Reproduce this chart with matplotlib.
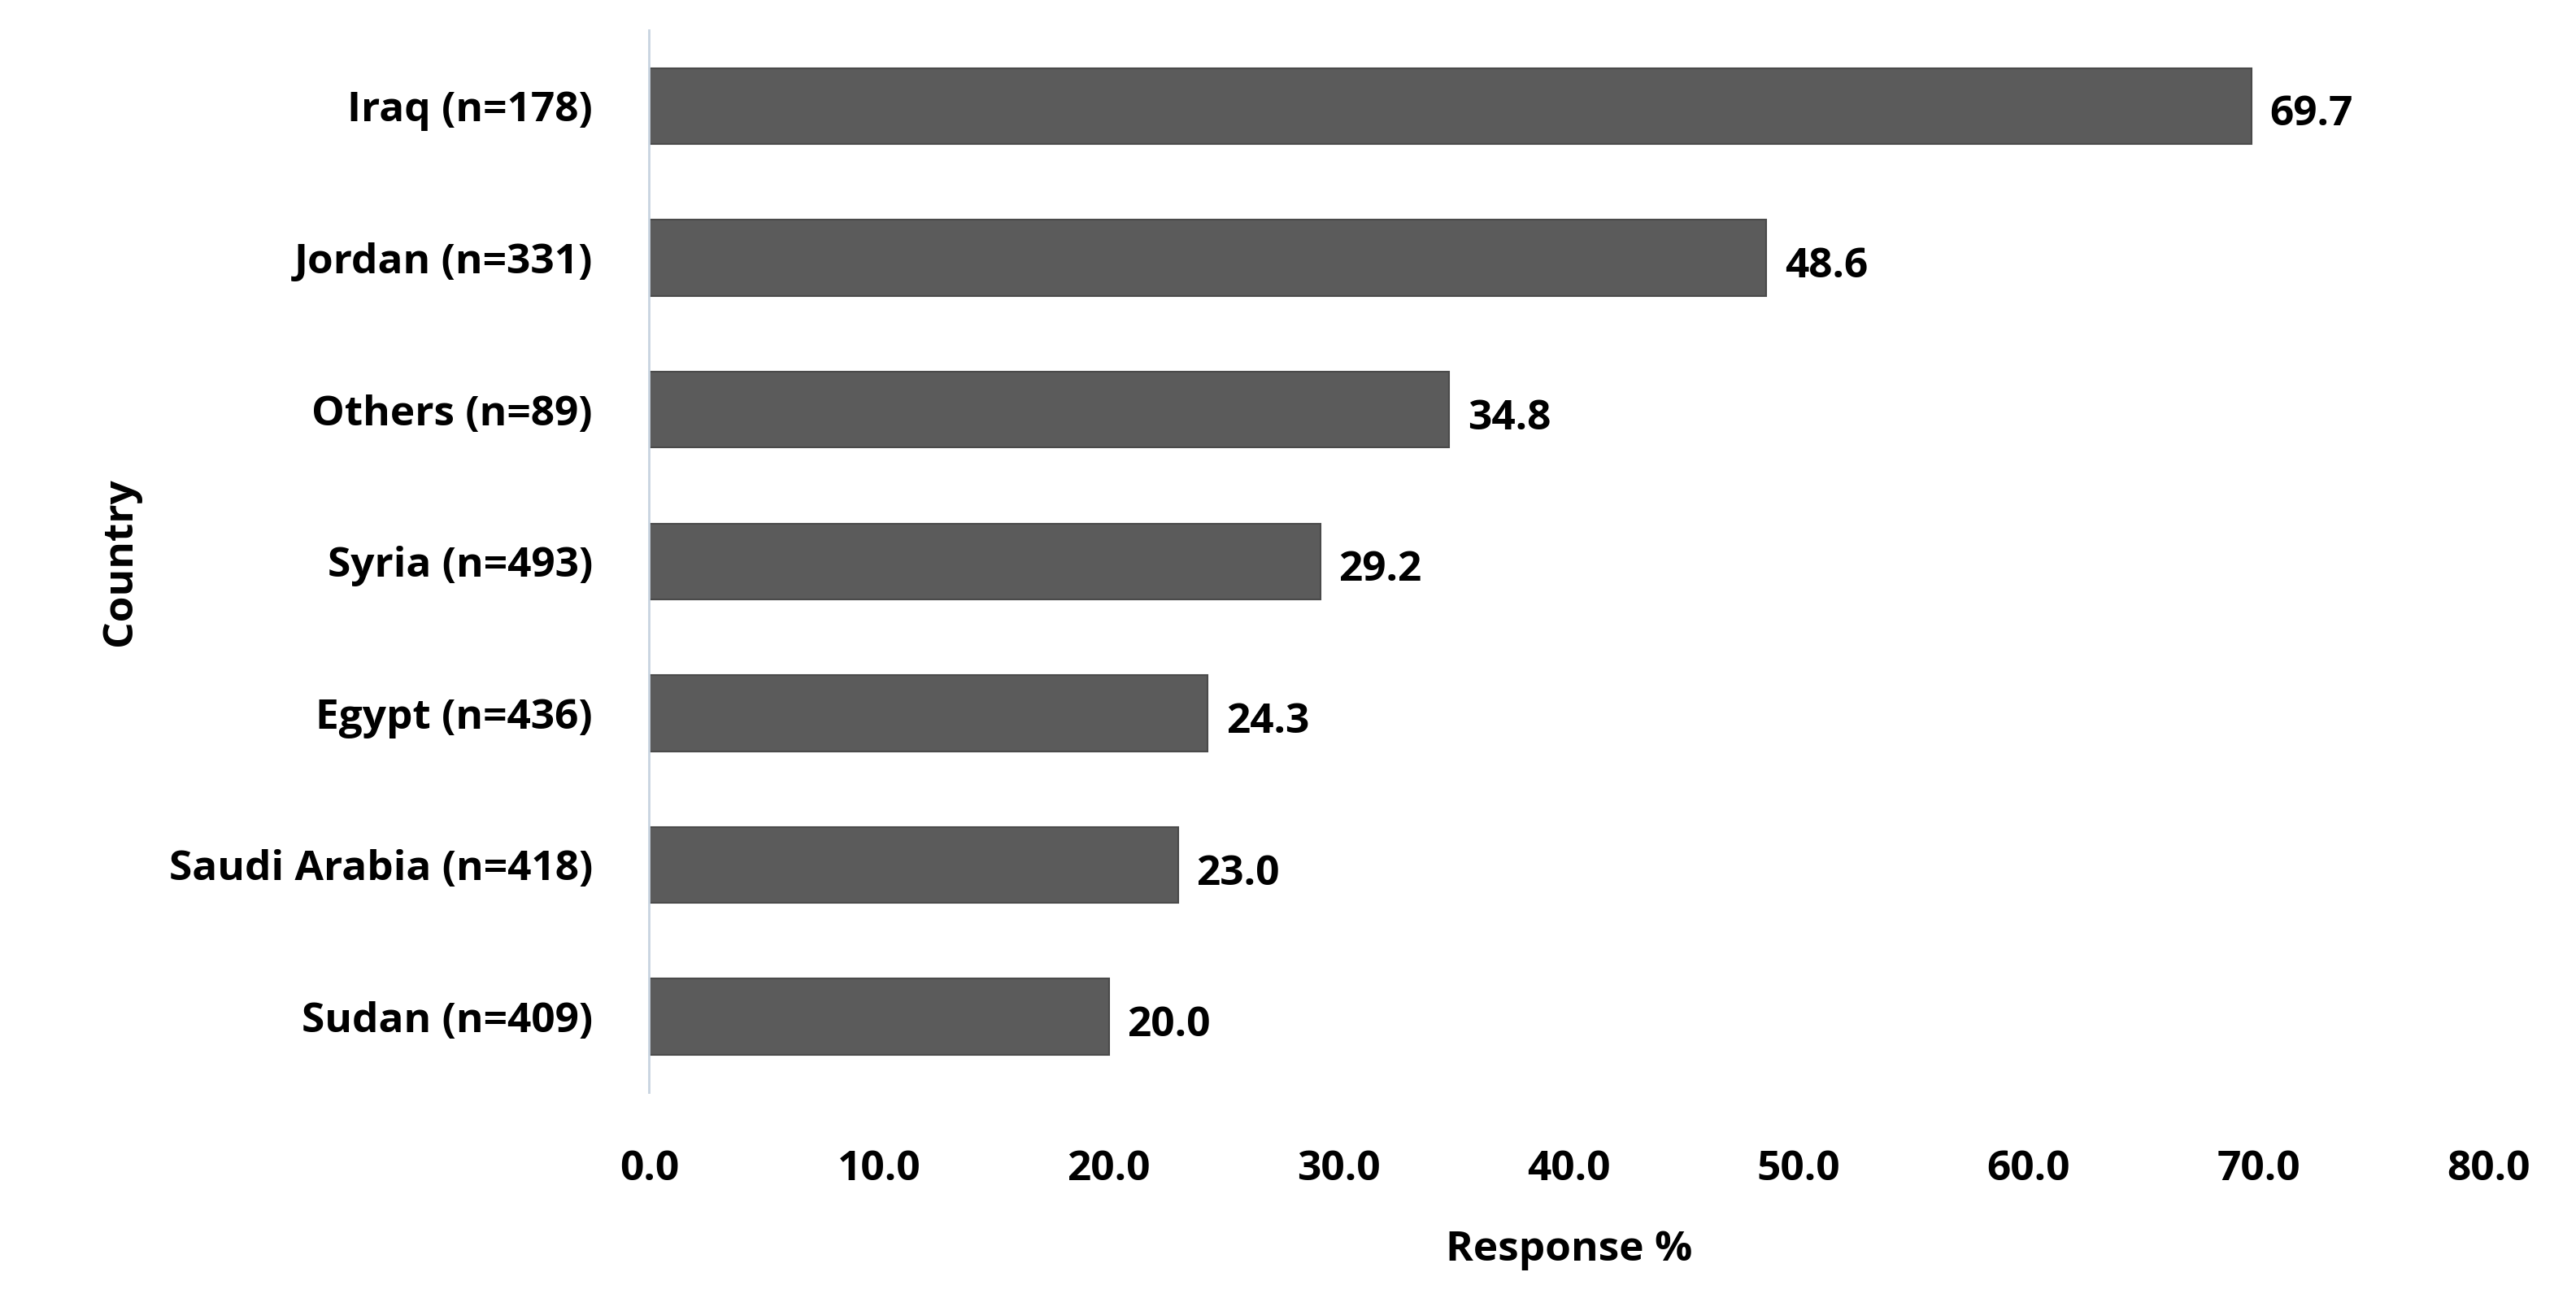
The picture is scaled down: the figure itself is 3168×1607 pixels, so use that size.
import matplotlib.pyplot as plt
import numpy as np

countries = ["Iraq (n=178)", "Jordan (n=331)", "Others (n=89)", "Syria (n=493)",
             "Egypt (n=436)", "Saudi Arabia (n=418)", "Sudan (n=409)"]
values = [69.7, 48.6, 34.8, 29.2, 24.3, 23.0, 20.0]
xticks = [0, 10, 20, 30, 40, 50, 60, 70, 80]

plt.rcParams['font.family'] = ['Open Sans', 'DejaVu Sans']
plt.rcParams['font.weight'] = 'bold'

fig = plt.figure(figsize=(31.68, 16.07), dpi=100)
ax = fig.add_axes([0.252, 0.164, 0.714, 0.813])

y = np.arange(len(countries))[::-1]
ax.barh(y, values, height=0.5, color='#5b5b5b', edgecolor='#4a4a4a', linewidth=1.5)
for yi, v in zip(y, values):
    ax.text(v + 0.8, yi - 0.06, f"{v:.1f}", va='center', ha='left', fontsize=37, fontweight='bold')

ax.set_ylim(-0.5, len(countries) - 0.5)
ax.set_xlim(0, 80)
ax.set_yticks(y, countries)
ax.set_xticks(xticks, [f"{t:.1f}" for t in xticks])
ax.tick_params(axis='both', length=0, labelsize=37)
ax.tick_params(axis='y', pad=50)
ax.tick_params(axis='x', pad=50)
for lab in ax.get_xticklabels() + ax.get_yticklabels():
    lab.set_fontweight('bold')
for name in ['top', 'right', 'bottom']:
    ax.spines[name].set_visible(False)
ax.spines['left'].set_color('#c8d4e0')
ax.spines['left'].set_linewidth(2)

ax.set_xlabel("Response %", fontsize=37, fontweight='bold', labelpad=35)
ax.set_ylabel("Country", fontsize=37, fontweight='bold', labelpad=25)

fig.savefig("out.png", dpi=100)
